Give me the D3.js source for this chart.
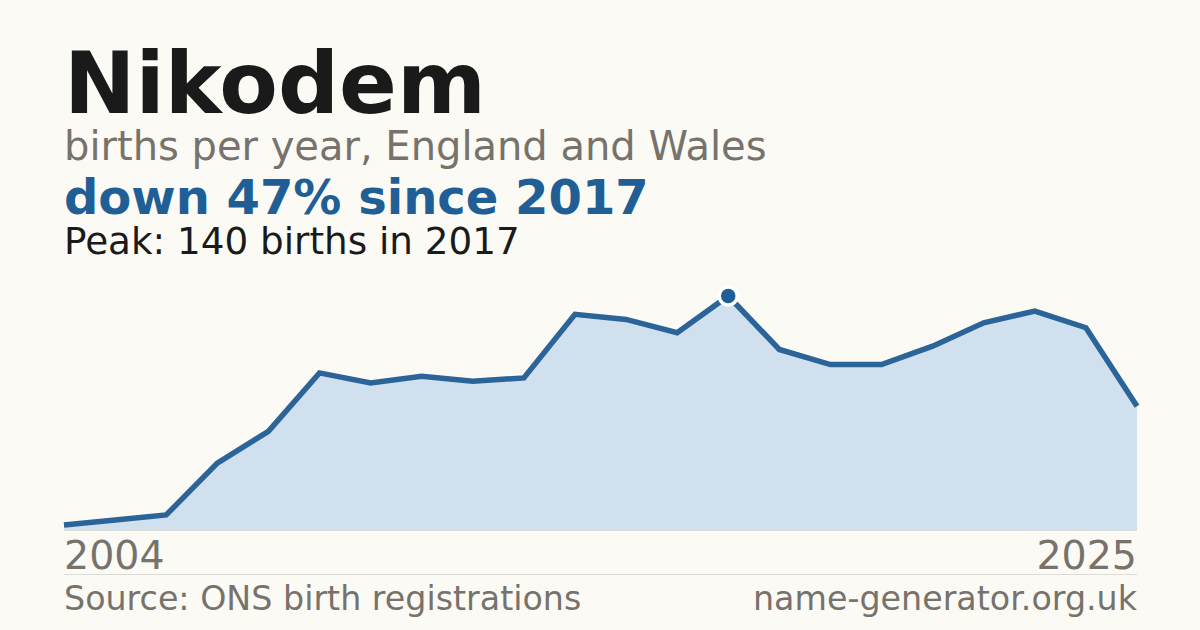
<!DOCTYPE html>
<html>
<head>
<meta charset="utf-8">
<script src="https://cdn.jsdelivr.net/npm/d3@7"></script>
<style>
  html, body { margin: 0; padding: 0; background: #fbfaf5; }
  svg { display: block; }
  text { font-family: "DejaVu Sans", sans-serif; }
</style>
</head>
<body>
<svg id="chart" width="1200" height="630"></svg>
<script>
const years = [2004,2005,2006,2007,2008,2009,2010,2011,2012,2013,2014,2015,2016,2017,2018,2019,2020,2021,2022,2023,2024,2025];
const births = [3,6,9,40,59,94,88,92,89,91,129,126,118,140,108,99,99,110,124,131,121,74];
const xTickLabels = ["2004","2025"];
const peakYear = 2017;
const peakValue = 140;

(function () {
const svg = d3.select("#chart");
const W = 1200, H = 630;
const plotLeft = 64, plotRight = 1137, plotBase = 530, plotTop = 296;

svg.append("rect").attr("width", W).attr("height", H).attr("fill", "#fbfaf5");

// Header texts
svg.append("text").attr("x", 64).attr("y", 113)
  .attr("font-size", 85.4).attr("font-weight", "bold").attr("fill", "#1a1a1a").text("Nikodem");
svg.append("text").attr("x", 64).attr("y", 160)
  .attr("font-size", 40).attr("fill", "#77726b").text("births per year, England and Wales");
svg.append("text").attr("x", 64).attr("y", 214)
  .attr("font-size", 48).attr("font-weight", "bold").attr("fill", "#1f5f96").text("down 47% since 2017");
svg.append("text").attr("x", 64).attr("y", 254)
  .attr("font-size", 37.3).attr("fill", "#1a1a1a").text("Peak: 140 births in 2017");

const x = d3.scaleLinear().domain([years[0], years[years.length - 1]]).range([plotLeft, plotRight]);
const y = d3.scaleLinear().domain([0, peakValue]).range([plotBase, plotTop]);

const data = years.map((yr, i) => ({ yr, v: births[i] }));

const area = d3.area().x(d => x(d.yr)).y0(plotBase).y1(d => y(d.v));
const line = d3.line().x(d => x(d.yr)).y(d => y(d.v));

svg.append("path").datum(data).attr("d", area).attr("fill", "#d0e0ef");
svg.append("line").attr("x1", plotLeft).attr("x2", plotRight).attr("y1", plotBase + 0.5).attr("y2", plotBase + 0.5)
  .attr("stroke", "#dcdcd6").attr("stroke-width", 1);
svg.append("path").datum(data).attr("d", line).attr("fill", "none")
  .attr("stroke", "#2a6498").attr("stroke-width", 5.5).attr("stroke-linejoin", "miter");

// Peak marker
svg.append("circle").attr("cx", x(peakYear)).attr("cy", y(peakValue)).attr("r", 9)
  .attr("fill", "#1f5f96").attr("stroke", "#ffffff").attr("stroke-width", 3.5);

// Year labels
svg.append("text").attr("x", x(years[0])).attr("y", 569)
  .attr("font-size", 39.5).attr("fill", "#77726b").attr("text-anchor", "start").text(xTickLabels[0]);
svg.append("text").attr("x", x(years[years.length - 1])).attr("y", 569)
  .attr("font-size", 39.5).attr("fill", "#77726b").attr("text-anchor", "end").text(xTickLabels[1]);

// Separator
svg.append("line").attr("x1", plotLeft).attr("x2", plotRight).attr("y1", 574.5).attr("y2", 574.5)
  .attr("stroke", "#dcdcd6").attr("stroke-width", 1);

// Footer
svg.append("text").attr("x", 64).attr("y", 610)
  .attr("font-size", 33.3).attr("fill", "#77726b").text("Source: ONS birth registrations");
svg.append("text").attr("x", plotRight).attr("y", 610)
  .attr("font-size", 33.3).attr("fill", "#77726b").attr("text-anchor", "end").text("name-generator.org.uk");
})();
</script>
</body>
</html>
